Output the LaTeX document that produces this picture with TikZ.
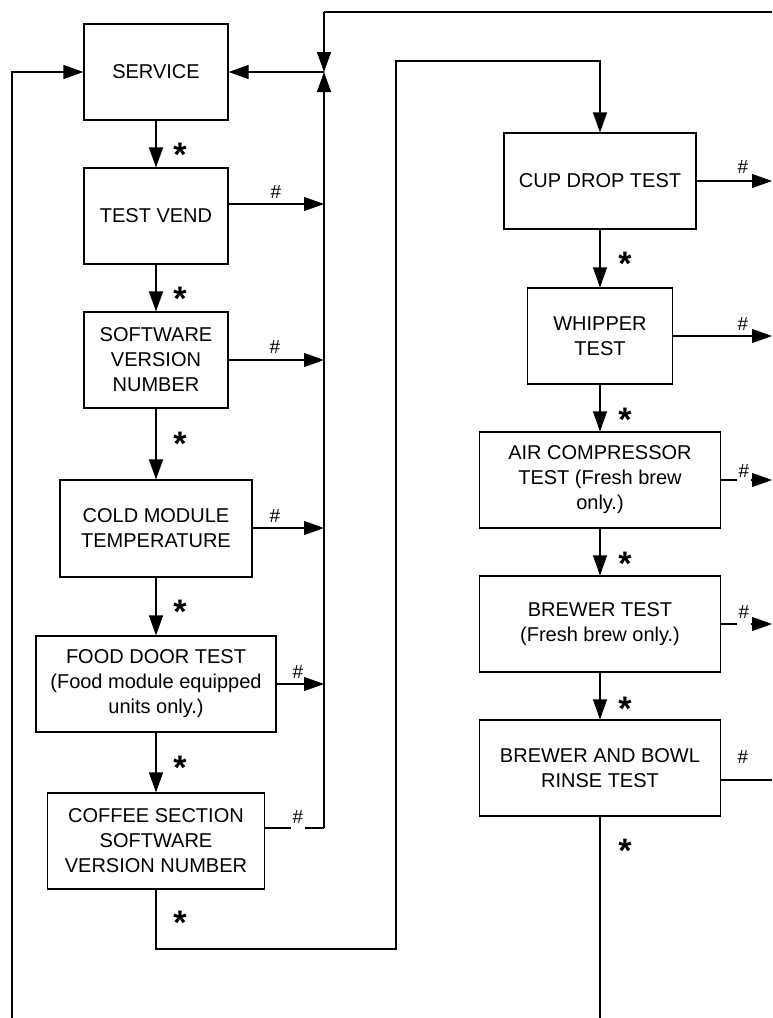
\documentclass[tikz,border=0pt]{standalone}
\usepackage{fontspec}
\setmainfont{Liberation Sans}
\usetikzlibrary{arrows.meta}
\begin{document}
\begin{tikzpicture}[x=1pt,y=-1pt,
  box/.style={draw, line width=1.1pt, align=center, inner sep=0pt, font=\fontsize{20}{25}\selectfont},
  arr/.style={line width=1.1pt, -{Triangle[length=20pt,width=14pt]}},
  ln/.style={line width=1.1pt},
  hash/.style={font=\fontsize{19}{19}\selectfont, inner sep=0pt, anchor=base},
  hashgap/.style={hash, fill=white, inner xsep=1.5pt},
  star/.style={font=\fontsize{34}{34}\selectfont\bfseries, inner sep=0pt, anchor=north}]
\useasboundingbox (0,0) rectangle (772,1018);

% left column
\node[box, minimum width=144pt, minimum height=96pt] (service) at (156,72) {SERVICE};
\node[box, minimum width=144pt, minimum height=96pt] (testvend) at (156,216) {TEST VEND};
\node[box, minimum width=144pt, minimum height=96pt] (software) at (156,360) {SOFTWARE\\VERSION\\NUMBER};
\node[box, minimum width=192pt, minimum height=97pt] (cold) at (156,528.5) {COLD MODULE\\TEMPERATURE};
\node[box, minimum width=240pt, minimum height=96pt] (food) at (156,684) {FOOD DOOR TEST\\(Food module equipped\\units only.)};
\node[box, minimum width=217pt, minimum height=96pt] (coffee) at (156,841) {COFFEE SECTION\\SOFTWARE\\VERSION NUMBER};

% right column
\node[box, minimum width=192pt, minimum height=96pt] (cupdrop) at (600,181) {CUP DROP TEST};
\node[box, minimum width=145pt, minimum height=96pt] (whipper) at (600,336) {WHIPPER\\TEST};
\node[box, minimum width=241pt, minimum height=96pt] (air) at (600,480) {AIR COMPRESSOR\\TEST (Fresh brew\\only.)};
\node[box, minimum width=241pt, minimum height=96pt] (brewer) at (600,624) {BREWER TEST\\(Fresh brew only.)};
\node[box, minimum width=241pt, minimum height=96pt] (rinse) at (600,768) {BREWER AND BOWL\\RINSE TEST};

% coordinates
\coordinate (topR) at (772,12);
\coordinate (top) at (324,12);
\coordinate (jS) at (324,72);
\coordinate (jC) at (324,828);
\coordinate (j1) at (324,204);
\coordinate (j2) at (324,360);
\coordinate (j3) at (324,528);
\coordinate (j4) at (324,684);
\coordinate (lb) at (12,1018);
\coordinate (lt) at (12,72);
\coordinate (c1) at (156,949);
\coordinate (c2) at (396,949);
\coordinate (c3) at (396,61);
\coordinate (c4) at (600,61);
\coordinate (r1) at (772,181);
\coordinate (r2) at (772,336);
\coordinate (r3) at (772,480);
\coordinate (r4) at (772,624);
\coordinate (r5) at (772,780);
\coordinate (rb) at (600,1018);

% bus on the left column
\draw[ln] (topR) -- (top);
\draw[arr] (top) -- (jS);
\draw[ln] (coffee.east |- jC) -- (jC);
\draw[arr] (jC) -- (jS);
\draw[arr] (jS) -- (service.east);
\draw[arr] (lb) -- (lt) -- (service.west);

% # exits of left column
\draw[arr] (testvend.east |- j1) -- (j1);
\draw[arr] (software.east) -- (j2);
\draw[arr] (cold.east |- j3) -- (j3);
\draw[arr] (food.east) -- (j4);

% * steps of left column
\draw[arr] (service) -- (testvend);
\draw[arr] (testvend) -- (software);
\draw[arr] (software) -- (cold);
\draw[arr] (cold.south) -- (food.north);
\draw[arr] (food) -- (coffee);
\draw[arr] (coffee.south) -- (c1) -- (c2) -- (c3) -- (c4) -- (cupdrop.north);

% right column
\draw[arr] (cupdrop) -- (whipper);
\draw[arr] (whipper) -- (air);
\draw[arr] (air) -- (brewer);
\draw[arr] (brewer) -- (rinse);
\draw[ln] (rinse.south) -- (rb);
\draw[arr] (cupdrop.east) -- (r1);
\draw[arr] (whipper.east) -- (r2);
\draw[arr] (air.east) -- (r3);
\draw[arr] (brewer.east) -- (r4);
\draw[ln] (rinse.east |- r5) -- (r5);

% # labels
\node[hash] (h1) at (276,198) {\#};
\node[hash] (h2) at (275,353) {\#};
\node[hash] (h3) at (275,522) {\#};
\node[hash] (h4) at (298,678) {\#};
\node[hashgap, text depth=6pt] (h5) at (298,823) {\#};
\node[hashgap, text depth=4pt] (h8) at (744,477) {\#};
\node[hashgap, text depth=7.5pt] (h9) at (744,618) {\#};
\node[hash] (h6) at (743,173) {\#};
\node[hash] (h7) at (743,330) {\#};
\node[hash] (h10) at (743,763) {\#};

% * labels
\node[star] (s1) at (180,143) {*};
\node[star] (s2) at (180,287) {*};
\node[star] (s3) at (180,432) {*};
\node[star] (s4) at (180,599.5) {*};
\node[star] (s5) at (180,755.5) {*};
\node[star] (s6) at (180,911) {*};
\node[star] (s7) at (625,252) {*};
\node[star] (s8) at (625,408) {*};
\node[star] (s9) at (625,552) {*};
\node[star] (s10) at (625,697) {*};
\node[star] (s11) at (625,839) {*};
\end{tikzpicture}
\end{document}
